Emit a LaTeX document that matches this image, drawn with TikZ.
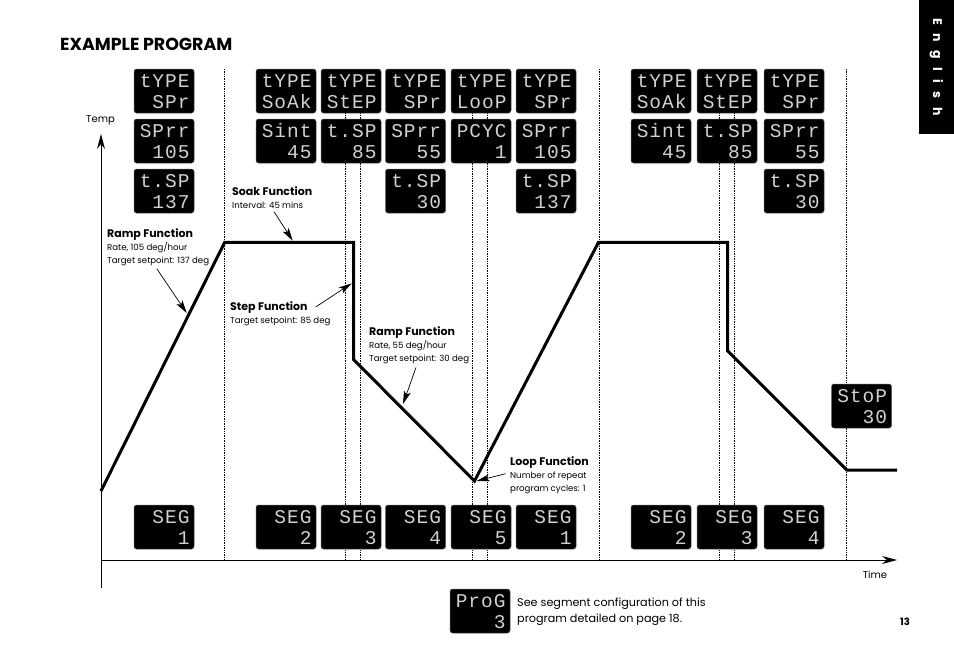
\documentclass[tikz,border=0pt]{standalone}
\usepackage{fontspec}
\usepackage{xcolor}
\usepackage{tikz}
\usetikzlibrary{chains,positioning,arrows.meta}
\setmainfont{Poppins}
\newfontfamily\lcdfont[LetterSpace=5]{Liberation Mono}
\newcommand\lcdrows[2]{\rule[-2.5pt]{0pt}{18.5pt}#1\\\rule[-2.5pt]{0pt}{18.5pt}#2}
\newcommand\notehead[1]{{\bfseries\fontsize{11}{13}\selectfont #1}}
\newcommand\tabgap{\hspace{8.5pt}}

\begin{document}
\begin{tikzpicture}[x=1pt,y=-1pt]

        \edef\sizelcdw{60pt}
        \edef\sizelcdh{44pt}
        \tikzstyle{lcd}=[fill=black,draw=black!65,line width=0.5pt,rounded corners=2.5pt,text=white!82!black,minimum width=\sizelcdw,minimum height=\sizelcdh,text width=51pt,inner xsep=0pt,inner ysep=0pt,align=right,font=\lcdfont\fontsize{19.5}{21}\selectfont]
        \tikzstyle{guide}=[densely dotted,line width=0.7pt]
        \tikzstyle{profile}=[line width=3pt,line join=miter]
        \tikzstyle{axis}=[line width=0.9pt,-{Stealth[length=15pt,width=8pt]}]
        \tikzstyle{pointer}=[line width=0.7pt,-{Stealth[length=13pt,width=7pt,inset=3pt]}]
        \tikzstyle{note}=[inner sep=0pt,align=left,anchor=north west,font=\fontsize{8.6}{13}\selectfont]

        \useasboundingbox (0,0) rectangle (954,672);

        %% Guide lines behind the displays
        \foreach \x in {224.7,345.3,360.7,472,487.5,599,719,734.3,846.7}
            \draw[guide] (\x,69) -- (\x,559);

        %% Displays, one chain per column
        \begin{scope}[shift={(164,91)},start chain=1 going below,node distance=5.5pt]
            \node (typea) [on chain=1,lcd] {\lcdrows{tYPE}{SPr}};
            \node (ratea) [on chain=1,lcd] {\lcdrows{SPrr}{105}};
            \node (spa) [on chain=1,lcd] {\lcdrows{t.SP}{137}};
        \end{scope}

        \begin{scope}[shift={(286,91)},start chain=1 going below,node distance=5.5pt]
            \node (typeb) [on chain=1,lcd] {\lcdrows{tYPE}{SoAk}};
            \node (sintb) [on chain=1,lcd] {\lcdrows{Sint}{45}};
        \end{scope}

        \begin{scope}[shift={(351,91)},start chain=1 going below,node distance=5.5pt]
            \node (typec) [on chain=1,lcd] {\lcdrows{tYPE}{StEP}};
            \node (spc) [on chain=1,lcd] {\lcdrows{t.SP}{85}};
        \end{scope}

        \begin{scope}[shift={(415.5,91)},start chain=1 going below,node distance=5.5pt]
            \node (typed) [on chain=1,lcd] {\lcdrows{tYPE}{SPr}};
            \node (rated) [on chain=1,lcd] {\lcdrows{SPrr}{55}};
            \node (spd) [on chain=1,lcd] {\lcdrows{t.SP}{30}};
        \end{scope}

        \begin{scope}[shift={(481,91)},start chain=1 going below,node distance=5.5pt]
            \node (typee) [on chain=1,lcd] {\lcdrows{tYPE}{LooP}};
            \node (pcyce) [on chain=1,lcd] {\lcdrows{PCYC}{1}};
        \end{scope}

        \begin{scope}[shift={(546,91)},start chain=1 going below,node distance=5.5pt]
            \node (typef) [on chain=1,lcd] {\lcdrows{tYPE}{SPr}};
            \node (ratef) [on chain=1,lcd] {\lcdrows{SPrr}{105}};
            \node (spf) [on chain=1,lcd] {\lcdrows{t.SP}{137}};
        \end{scope}

        \begin{scope}[shift={(661,91)},start chain=1 going below,node distance=5.5pt]
            \node (typeg) [on chain=1,lcd] {\lcdrows{tYPE}{SoAk}};
            \node (sintg) [on chain=1,lcd] {\lcdrows{Sint}{45}};
        \end{scope}

        \begin{scope}[shift={(727,91)},start chain=1 going below,node distance=5.5pt]
            \node (typeh) [on chain=1,lcd] {\lcdrows{tYPE}{StEP}};
            \node (sph) [on chain=1,lcd] {\lcdrows{t.SP}{85}};
        \end{scope}

        \begin{scope}[shift={(794,91)},start chain=1 going below,node distance=5.5pt]
            \node (typei) [on chain=1,lcd] {\lcdrows{tYPE}{SPr}};
            \node (ratei) [on chain=1,lcd] {\lcdrows{SPrr}{55}};
            \node (spi) [on chain=1,lcd] {\lcdrows{t.SP}{30}};
        \end{scope}

        %% Segment row
        \begin{scope}[shift={(164,527)}]
            \node (sega) at (0,0) [lcd] {\lcdrows{SEG}{1}};
            \node (segb) at (122,0) [lcd] {\lcdrows{SEG}{2}};
            \node (segc) at (187,0) [lcd] {\lcdrows{SEG}{3}};
            \node (segd) at (251.5,0) [lcd] {\lcdrows{SEG}{4}};
            \node (sege) at (317,0) [lcd] {\lcdrows{SEG}{5}};
            \node (segf) at (382,0) [lcd] {\lcdrows{SEG}{1}};
            \node (segg) at (497,0) [lcd] {\lcdrows{SEG}{2}};
            \node (segh) at (563,0) [lcd] {\lcdrows{SEG}{3}};
            \node (segi) at (630,0) [lcd] {\lcdrows{SEG}{4}};
        \end{scope}

        \node (stop) at (861.5,406) [lcd] {\lcdrows{StoP}{30}};
        \node (prog) at (480,611) [lcd] {\lcdrows{ProG}{3}};

        %% Axes
        \coordinate (origin) at (101,560);
        \coordinate (tempfoot) at (101,588);
        \coordinate (temptop) at (101,134);
        \coordinate (timeend) at (897,560);
        \draw[axis] (tempfoot) -- (temptop);
        \draw[axis] (origin) -- (timeend);
        \node (templabel) at (100.5,120) {\fontsize{10}{12}\selectfont Temp};
        \node (timelabel) at (875,575) {\fontsize{10}{12}\selectfont Time};

        %% Set point profile
        \coordinate (pa) at (101,491);
        \coordinate (pb) at (224.7,242.3);
        \coordinate (pc) at (353.5,242.3);
        \coordinate (pd) at (353.5,359.5);
        \coordinate (pe) at (474.5,481);
        \coordinate (pf) at (598.5,242.3);
        \coordinate (pg) at (727.7,242.3);
        \coordinate (ph) at (727.7,351);
        \coordinate (pi) at (846.7,470);
        \coordinate (pj) at (897,470);
        \draw[profile] (pa) -- (pb) -- (pc) -- (pd) -- (pe) -- (pf) -- (pg) -- (ph) -- (pi) -- (pj);

        %% Function notes
        \node (rampone) at (107,228.5) [note] {\notehead{Ramp Function}\\Rate, 105 deg/hour\\Target setpoint: 137 deg};
        \node (soak) at (232,186.5) [note] {\notehead{Soak Function}\\Interval: 45 mins};
        \node (stepnote) at (230,301.5) [note] {\notehead{Step Function}\\Target setpoint: 85 deg};
        \node (ramptwo) at (369,326.5) [note] {\notehead{Ramp Function}\\Rate, 55 deg/hour\\Target setpoint: 30 deg};
        \node (loopnote) at (510,456.5) [note] {\notehead{Loop Function}\\Number of repeat\\program cycles: 1};

        \coordinate (rampfrom) at (157,269);
        \coordinate (rampto) at (186.7,313);
        \coordinate (soakfrom) at (274,211.7);
        \coordinate (soakto) at (292.7,240.7);
        \coordinate (stepfrom) at (315.7,307);
        \coordinate (stepto) at (351.7,283.3);
        \coordinate (downfrom) at (416,367.5);
        \coordinate (downto) at (403,404);
        \coordinate (loopfrom) at (505.7,473.7);
        \coordinate (loopto) at (476.7,481);
        \draw[pointer] (rampfrom) -- (rampto);
        \draw[pointer] (soakfrom) -- (soakto);
        \draw[pointer] (stepfrom) -- (stepto);
        \draw[pointer] (downfrom) -- (downto);
        \draw[pointer] (loopfrom) -- (loopto);

        %% Page furniture
        \node (title) at (60,44) [anchor=west,inner sep=0pt,font=\bfseries\fontsize{17.4}{20}\selectfont] {EXAMPLE PROGRAM};
        \node (seenote) at (517,612) [anchor=west,inner sep=0pt,align=left,font=\fontsize{11.2}{16}\selectfont] {See segment configuration of this\\program detailed on page 18.};
        \node (pageno) at (905,622) [inner sep=0pt,font=\bfseries\fontsize{10}{12}\selectfont] {13};
        \node (tab) at (936.5,67) [rotate=-90,fill=black,text=white,minimum width=134pt,minimum height=35pt,inner sep=0pt,font=\bfseries\fontsize{12.5}{15}\selectfont] {E\tabgap n\tabgap g\tabgap l\tabgap i\tabgap s\tabgap h};

\end{tikzpicture}
\end{document}
